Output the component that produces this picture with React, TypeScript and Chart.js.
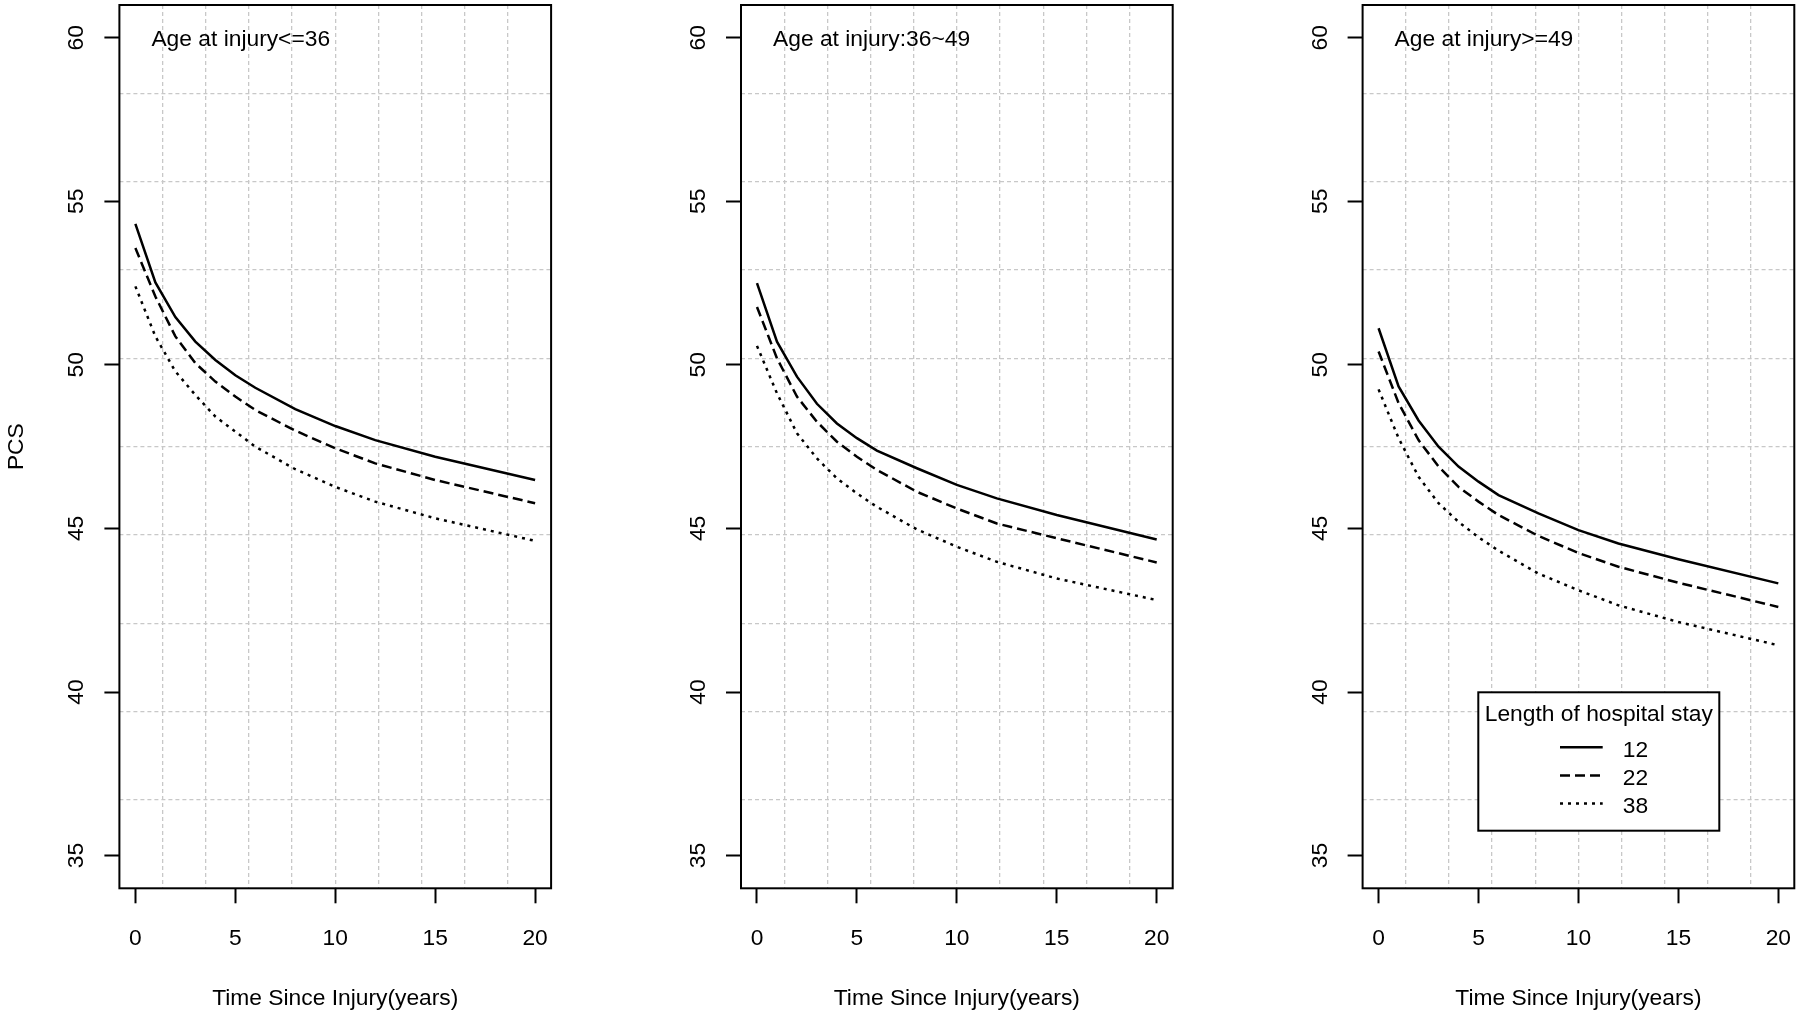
import React, { useEffect, useRef } from "react";
import { Chart, registerables } from "chart.js";

Chart.register(...registerables);

// ---------------- data ----------------
const years = [0, 1, 2, 3, 4, 5, 6, 8, 10, 12, 15, 20];
const stayLabels = ["12", "22", "38"];
const legendTitle = "Length of hospital stay";
const panelTitles = ["Age at injury<=36", "Age at injury:36~49", "Age at injury>=49"];
const xTitle = "Time Since Injury(years)";
const yTitle = "PCS";
const xTicks = [0, 5, 10, 15, 20];
const yTicks = [35, 40, 45, 50, 55, 60];
const xRange = [-0.8, 20.8];
const yRange = [34, 61];

const age36_stay12 = [54.31, 52.52, 51.46, 50.71, 50.15, 49.68, 49.3, 48.65, 48.13, 47.7, 47.19, 46.48];
const age36_stay22 = [53.57, 52.09, 50.87, 50.05, 49.49, 49.03, 48.62, 47.99, 47.45, 46.99, 46.48, 45.77];
const age36_stay38 = [52.4, 50.87, 49.8, 49.08, 48.42, 47.96, 47.5, 46.81, 46.27, 45.82, 45.31, 44.62];

const age49_stay12 = [52.5, 50.71, 49.64, 48.81, 48.21, 47.76, 47.38, 46.84, 46.33, 45.92, 45.41, 44.66];
const age49_stay22 = [51.77, 50.2, 49.03, 48.26, 47.65, 47.19, 46.79, 46.12, 45.61, 45.15, 44.7, 43.96];
const age49_stay38 = [50.58, 49.13, 47.91, 47.14, 46.53, 46.07, 45.66, 44.97, 44.44, 43.98, 43.47, 42.81];

const ageOld_stay12 = [51.12, 49.34, 48.3, 47.5, 46.89, 46.43, 46.02, 45.46, 44.95, 44.54, 44.06, 43.32];
const ageOld_stay22 = [50.41, 48.83, 47.7, 46.89, 46.27, 45.82, 45.41, 44.77, 44.25, 43.83, 43.34, 42.6];
const ageOld_stay38 = [49.25, 47.76, 46.58, 45.77, 45.2, 44.73, 44.32, 43.62, 43.11, 42.65, 42.14, 41.43];

// ---------------- style ----------------
const FONT = "'Liberation Sans', Arial, Helvetica, sans-serif";
const FS = 22.8;
const DASHES = [[], [10, 5], [3, 5]];
const LINE_W = 2.5;
const CANVAS_W = 560;
const CANVAS_H = 1015;
const PLOT_W = 431.7;
const PLOT_TOP = 5;
const PLOT_BOTTOM = 888.3;

const panels = [
  { canvasLeft: 0, axisW: 119.4, series: [age36_stay12, age36_stay22, age36_stay38], title: panelTitles[0], showYTitle: true, legend: false },
  { canvasLeft: 622, axisW: 119, series: [age49_stay12, age49_stay22, age49_stay38], title: panelTitles[1], showYTitle: false, legend: false },
  { canvasLeft: 1243, axisW: 119.6, series: [ageOld_stay12, ageOld_stay22, ageOld_stay38], title: panelTitles[2], showYTitle: false, legend: true },
];

const tenths = (lo: number, hi: number) =>
  Array.from({ length: 9 }, (_, k) => ({ value: lo + ((k + 1) * (hi - lo)) / 10 }));

const noPad = (s: any) => {
  s.paddingLeft = 0;
  s.paddingRight = 0;
  s.paddingTop = 0;
  s.paddingBottom = 0;
};

const overlayPlugin = {
  id: "overlay",
  afterDatasetsDraw(chart: any, _args: any, opts: any) {
    const { ctx, chartArea: a, scales } = chart;
    ctx.save();
    // box
    ctx.setLineDash([]);
    ctx.strokeStyle = "#000";
    ctx.lineWidth = 2;
    ctx.strokeRect(a.left, a.top, a.right - a.left, a.bottom - a.top);

    ctx.fillStyle = "#000";
    ctx.font = `${FS}px ${FONT}`;
    // rotated y tick labels
    ctx.textAlign = "center";
    ctx.textBaseline = "alphabetic";
    yTicks.forEach((v) => {
      const y = scales.y.getPixelForValue(v);
      ctx.save();
      ctx.translate(a.left - 36, y);
      ctx.rotate(-Math.PI / 2);
      ctx.fillText(String(v), 0, 0);
      ctx.restore();
    });
    // panel title
    ctx.textAlign = "left";
    ctx.fillText(opts.title, a.left + 32, a.top + 40.5);

    // legend
    if (opts.legend) {
      const bw = 241;
      const bh = 138.4;
      const bx = a.right - 316;
      const by = a.bottom - 196;
      ctx.fillStyle = "#fff";
      ctx.fillRect(bx, by, bw, bh);
      ctx.strokeStyle = "#000";
      ctx.lineWidth = 2;
      ctx.strokeRect(bx, by, bw, bh);
      ctx.fillStyle = "#000";
      ctx.textAlign = "center";
      ctx.fillText(legendTitle, bx + bw / 2, by + 28.4);
      ctx.textAlign = "left";
      chart.data.datasets.forEach((ds: any, i: number) => {
        const y = by + 55 + i * 28.1;
        ctx.save();
        ctx.setLineDash(ds.borderDash || []);
        ctx.lineWidth = LINE_W;
        ctx.lineCap = "butt";
        ctx.beginPath();
        ctx.moveTo(bx + 81.7, y);
        ctx.lineTo(bx + 124.4, y);
        ctx.stroke();
        ctx.restore();
        ctx.fillText(ds.label, bx + 144.4, y + 9.4);
      });
    }
    ctx.restore();
  },
};

function buildConfig(p: any): any {
  const font = { family: FONT, size: FS };
  return {
    type: "line",
    data: {
      datasets: p.series.map((vals: number[], i: number) => ({
        label: stayLabels[i],
        data: years.map((x, j) => ({ x, y: vals[j] })),
        borderColor: "#000",
        borderWidth: LINE_W,
        borderDash: DASHES[i],
        borderCapStyle: "butt",
        pointRadius: 0,
        tension: 0,
        fill: false,
      })),
    },
    options: {
      responsive: false,
      animation: false,
      devicePixelRatio: 1,
      layout: {
        padding: { left: 0, right: CANVAS_W - (p.axisW + PLOT_W), top: PLOT_TOP, bottom: 0 },
      },
      plugins: {
        legend: { display: false },
        tooltip: { enabled: false },
        overlay: { title: p.title, legend: p.legend },
      },
      scales: {
        x: {
          type: "linear",
          position: "bottom",
          min: xRange[0],
          max: xRange[1],
          afterBuildTicks: (s: any) => {
            s.ticks = xTicks.map((v) => ({ value: v }));
          },
          afterFit: (s: any) => {
            s.height = CANVAS_H - PLOT_BOTTOM;
            noPad(s);
          },
          grid: { display: true, drawOnChartArea: false, drawTicks: true, tickLength: 15, tickWidth: 2, tickColor: "#000" },
          border: { display: false },
          ticks: { color: "#000", font, padding: 21.5, maxRotation: 0, autoSkip: false },
          title: { display: true, text: xTitle, color: "#000", font, padding: { top: 0, bottom: 2.3 } },
        },
        y: {
          type: "linear",
          position: "left",
          min: yRange[0],
          max: yRange[1],
          afterBuildTicks: (s: any) => {
            s.ticks = yTicks.map((v) => ({ value: v }));
          },
          afterFit: (s: any) => {
            s.width = p.axisW;
            noPad(s);
          },
          grid: { display: true, drawOnChartArea: false, drawTicks: true, tickLength: 15, tickWidth: 2, tickColor: "#000" },
          border: { display: false },
          ticks: { display: false },
          title: { display: p.showYTitle, text: yTitle, color: "#000", font, padding: { top: 3, bottom: 0 } },
        },
        xg: {
          type: "linear",
          position: "top",
          min: xRange[0],
          max: xRange[1],
          afterBuildTicks: (s: any) => {
            s.ticks = tenths(xRange[0], xRange[1]);
          },
          afterFit: (s: any) => {
            s.height = 0;
            noPad(s);
          },
          grid: { color: "#c8c8c8", lineWidth: 1.3, drawTicks: false },
          border: { display: false, dash: [4, 3] },
          ticks: { display: false },
        },
        yg: {
          type: "linear",
          position: "right",
          min: yRange[0],
          max: yRange[1],
          afterBuildTicks: (s: any) => {
            s.ticks = tenths(yRange[0], yRange[1]);
          },
          afterFit: (s: any) => {
            s.width = 0;
            noPad(s);
          },
          grid: { color: "#c8c8c8", lineWidth: 1.3, drawTicks: false },
          border: { display: false, dash: [4, 3] },
          ticks: { display: false },
        },
      },
    },
    plugins: [overlayPlugin],
  };
}

function Panel({ p }: { p: any }) {
  const ref = useRef<HTMLCanvasElement | null>(null);
  useEffect(() => {
    if (!ref.current) return;
    const chart = new Chart(ref.current, buildConfig(p));
    return () => chart.destroy();
  }, [p]);
  return (
    <canvas
      ref={ref}
      width={CANVAS_W}
      height={CANVAS_H}
      style={{ position: "absolute", left: p.canvasLeft, top: 0, width: CANVAS_W, height: CANVAS_H }}
    />
  );
}

export default function App() {
  useEffect(() => {
    document.body.style.margin = "0";
  }, []);
  return (
    <div
      style={{
        position: "absolute",
        left: 0,
        top: 0,
        width: 1800,
        height: 1015,
        overflow: "hidden",
        background: "#fff",
      }}
    >
      {panels.map((p, i) => (
        <Panel key={i} p={p} />
      ))}
    </div>
  );
}
